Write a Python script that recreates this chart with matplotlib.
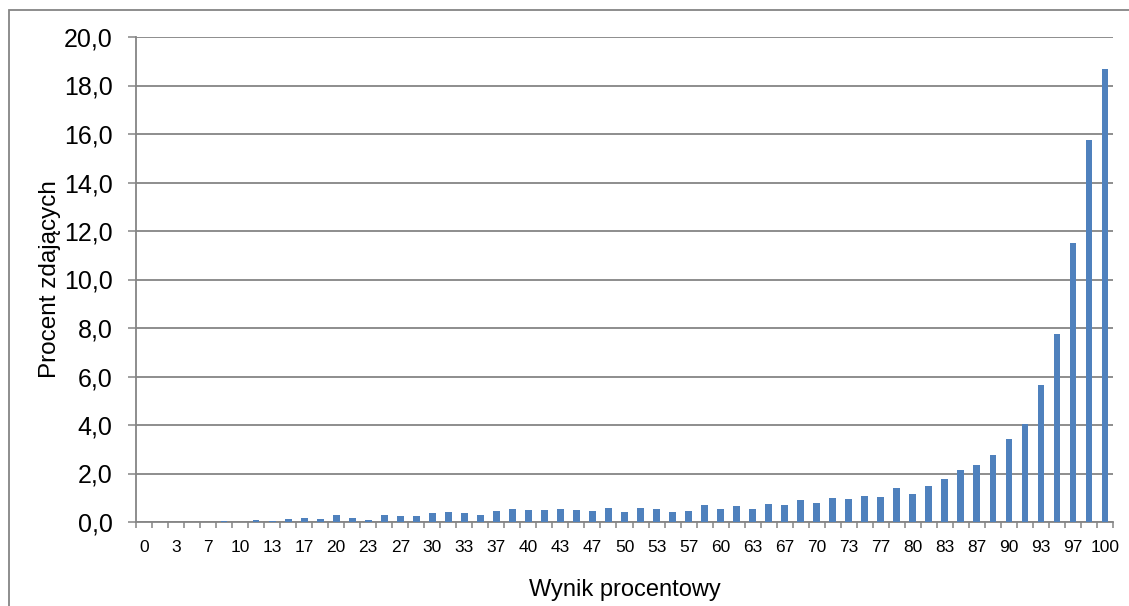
import matplotlib
matplotlib.use("Agg")
import matplotlib.pyplot as plt
import matplotlib.patches as patches
import numpy as np

plt.rcParams['font.family'] = ['Liberation Sans', 'DejaVu Sans']

# wynik procentowy (zaokraglony), kolejne kategorie co 1/60
categories = ["0", "2", "3", "5", "7", "8",
              "10", "12", "13", "15", "17", "18",
              "20", "22", "23", "25", "27", "28",
              "30", "32", "33", "35", "37", "38",
              "40", "42", "43", "45", "47", "48",
              "50", "52", "53", "55", "57", "58",
              "60", "62", "63", "65", "67", "68",
              "70", "72", "73", "75", "77", "78",
              "80", "82", "83", "85", "87", "88",
              "90", "92", "93", "95", "97", "98",
              "100"]

# procent zdajacych
percent = [0.0, 0.0, 0.0, 0.0, 0.0, 0.05,
           0.02, 0.08, 0.05, 0.11, 0.17, 0.13,
           0.30, 0.17, 0.08, 0.29, 0.25, 0.24,
           0.37, 0.40, 0.37, 0.30, 0.45, 0.54,
           0.48, 0.51, 0.52, 0.51, 0.47, 0.58,
           0.43, 0.56, 0.54, 0.43, 0.44, 0.69,
           0.55, 0.67, 0.54, 0.76, 0.70, 0.89,
           0.77, 0.97, 0.93, 1.08, 1.03, 1.42,
           1.15, 1.50, 1.78, 2.13, 2.37, 2.75,
           3.44, 4.06, 5.63, 7.75, 11.5, 15.76,
           18.66]

y_ticks = [0, 2, 4, 6, 8, 10, 12, 14, 16, 18, 20]
y_labels = ["0,0", "2,0", "4,0", "6,0", "8,0", "10,0",
            "12,0", "14,0", "16,0", "18,0", "20,0"]

grey = "#858585"

fig = plt.figure(figsize=(11.29, 6.06), dpi=100)
ax = fig.add_axes([136/1129, 1-522/606, (1113-136)/1129, (522-37)/606])

x = np.arange(len(categories))
ax.bar(x, percent, width=0.42, color="#4F81BD", zorder=3)

ax.set_xlim(-0.5, len(categories)-0.5)
ax.set_ylim(0, 20)

# y axis
ax.set_yticks(y_ticks)
ax.set_yticklabels(y_labels, fontsize=18)
ax.yaxis.grid(True, color=grey, linewidth=1.3, zorder=0)
ax.tick_params(axis='y', length=6, width=1.1, color=grey, pad=11)

# x axis: ticks between categories, labels on every second category
ax.set_xticks(np.arange(-0.5, len(categories), 1.0))
ax.set_xticklabels([])
ax.set_xticks(x[::2], minor=True)
ax.set_xticklabels(categories[::2], minor=True, fontsize=12.5)
ax.tick_params(axis='x', which='major', length=4, width=1.1, color=grey)
ax.tick_params(axis='x', which='minor', length=0, pad=13)

for s in ['top', 'right']:
    ax.spines[s].set_visible(False)
for s in ['left', 'bottom']:
    ax.spines[s].set_color(grey)
    ax.spines[s].set_linewidth(1.3)

ax.set_xlabel("Wynik procentowy", fontsize=17, labelpad=17)
ax.set_ylabel("Procent zdających", fontsize=17.5, labelpad=2)

# ramka wykresu (przycieta z prawej i z dolu)
frame = patches.Rectangle((9/1129, -0.1), 1.2, 1-10/606+0.1, transform=fig.transFigure,
                          fill=False, edgecolor=grey, linewidth=1.3, clip_on=False)
fig.patches.append(frame)

fig.savefig("out.png", dpi=100)
